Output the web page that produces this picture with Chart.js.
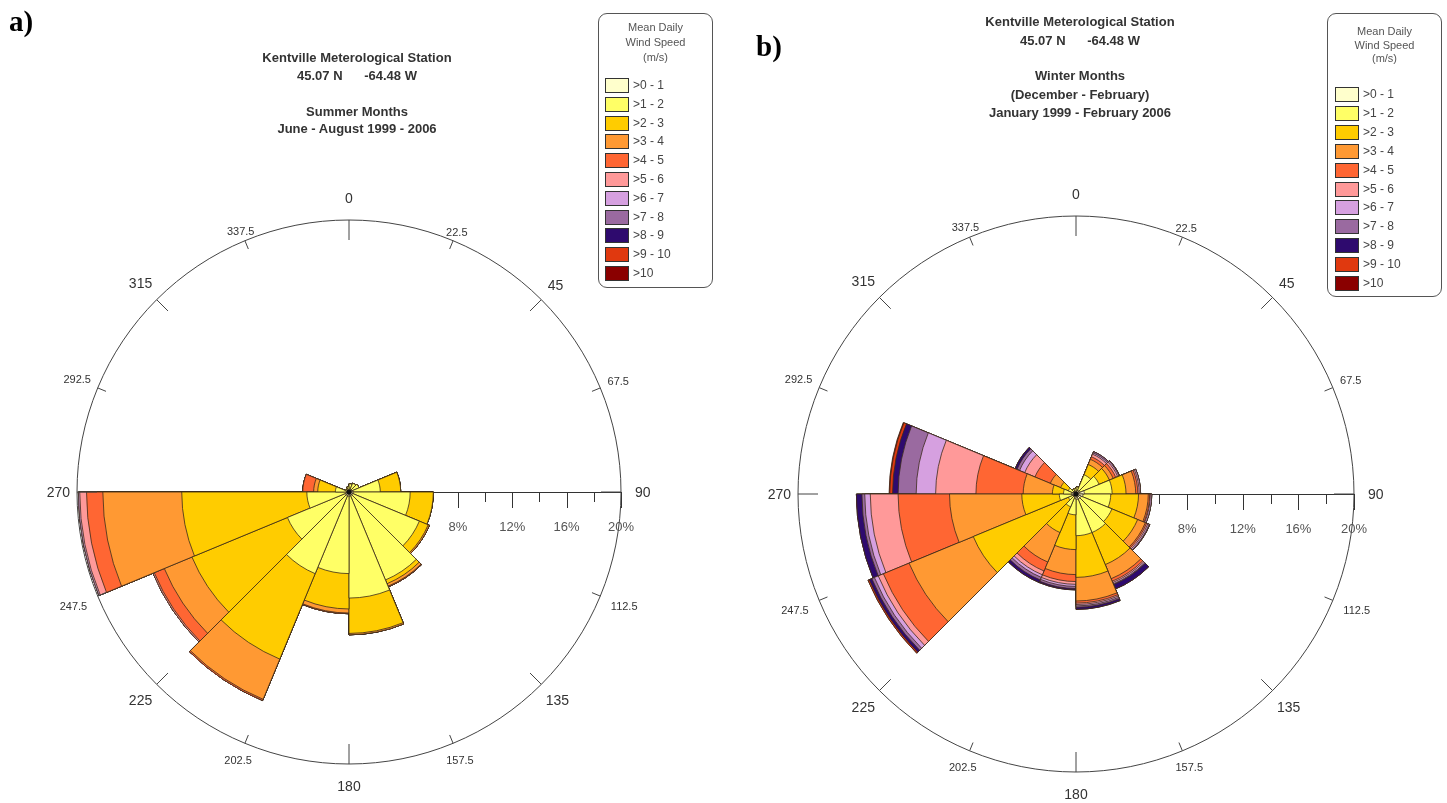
<!DOCTYPE html>
<html>
<head>
<meta charset="utf-8">
<script src="https://cdn.jsdelivr.net/npm/chart.js@4.4.0/dist/chart.umd.min.js"></script>
<style>
  body { margin: 0; background: #fff; }
  #page { position: relative; width: 1447px; height: 803px; overflow: hidden; font-family: "Liberation Sans", Arial, sans-serif; }
  canvas { position: absolute; top: 0; }
  .t { position: absolute; text-align: center; font-weight: bold; font-size: 13px; color: #333; white-space: pre; line-height: 16px; }
  .panel { position: absolute; font-family: "Liberation Serif", "Times New Roman", serif; font-weight: bold; font-size: 29px; color: #000; }
  .legend { position: absolute; border: 1px solid #555; border-radius: 9px; background: #fff; }
  .lt { position: absolute; left: 0; right: 0; text-align: center; font-size: 11px; color: #555; line-height: 14px; }
  .sw { position: absolute; width: 22px; height: 13px; border: 1px solid #333; }
  .sl { position: absolute; font-size: 12px; color: #444; line-height: 14px; white-space: pre; }
</style>
</head>
<body>
<div id="page">
  <canvas id="summer" width="720" height="803" style="left:0"></canvas>
  <canvas id="winter" width="727" height="803" style="left:720px"></canvas>

  <div class="panel" style="left:9px;top:5px">a)</div>
  <div class="panel" style="left:756px;top:30px">b)</div>

  <div class="t" style="left:207px;width:300px;top:50px">Kentville Meterological Station</div>
  <div class="t" style="left:207px;width:300px;top:68px">45.07 N      -64.48 W</div>
  <div class="t" style="left:207px;width:300px;top:104px">Summer Months</div>
  <div class="t" style="left:207px;width:300px;top:121px">June - August 1999 - 2006</div>

  <div class="t" style="left:930px;width:300px;top:14px">Kentville Meterological Station</div>
  <div class="t" style="left:930px;width:300px;top:33px">45.07 N      -64.48 W</div>
  <div class="t" style="left:930px;width:300px;top:68px">Winter Months</div>
  <div class="t" style="left:930px;width:300px;top:87px">(December - February)</div>
  <div class="t" style="left:930px;width:300px;top:105px">January 1999 - February 2006</div>

  <div class="legend" id="legA" style="left:598px;top:13px;width:113px;height:273px"></div>
  <div class="legend" id="legB" style="left:1327px;top:13px;width:113px;height:282px"></div>
</div>

<script>
const directions = ['0', '22.5', '45', '67.5', '90', '112.5', '135', '157.5',
                    '180', '202.5', '225', '247.5', '270', '292.5', '315', '337.5'];
const binLabels = ['>0 - 1', '>1 - 2', '>2 - 3', '>3 - 4', '>4 - 5', '>5 - 6',
                   '>6 - 7', '>7 - 8', '>8 - 9', '>9 - 10', '>10'];
const binColors = ['#ffffcc', '#ffff66', '#ffcc00', '#ff9933', '#ff6633', '#ff9999',
                   '#d6a0e0', '#9a6aa0', '#2e0a6e', '#e0390f', '#8a0000'];
const pctTicks = [4, 8, 12, 16, 20];
const pctMinor = [2, 6, 10, 14, 18];

// summer, % of days per speed bin, sectors 0-22.5 ... 337.5-360
const summer01 = [0.2, 0.2, 0.2, 0.3, 0.3, 0.3, 0.3, 0.3, 0.3, 0.3, 0.3, 0.2, 0.2, 0.1, 0.1, 0.1];
const summer12 = [0.4, 0.5, 0.6, 2.0, 4.2, 5.3, 6.7, 7.5, 5.7, 6.2, 4.6, 2.9, 0.8, 0.2, 0.2, 0.3];
const summer23 = [0, 0, 0, 1.5, 1.7, 0.7, 0.3, 2.6, 2.6, 6.8, 7.6, 9.2, 1.3, 0, 0, 0];
const summer34 = [0, 0, 0, 0, 0, 0.1, 0.2, 0.1, 0.3, 3.2, 2.2, 5.8, 0.3, 0, 0, 0];
const summer45 = [0, 0, 0, 0, 0, 0, 0.05, 0, 0.05, 0.1, 0.8, 1.2, 0.8, 0, 0, 0];
const summer56 = [0, 0, 0, 0, 0, 0, 0, 0, 0, 0, 0.1, 0.5, 0, 0, 0, 0];
const summer67 = [0, 0, 0, 0, 0, 0, 0, 0, 0, 0, 0, 0.1, 0, 0, 0, 0];
const summer78 = [0, 0, 0, 0, 0, 0, 0, 0, 0, 0, 0, 0, 0, 0, 0, 0];
const summer89 = [0, 0, 0, 0, 0, 0, 0, 0, 0, 0, 0, 0, 0, 0, 0, 0];
const summer910 = [0, 0, 0, 0, 0, 0, 0, 0, 0, 0, 0, 0, 0, 0, 0, 0];
const summer10 = [0, 0, 0, 0, 0, 0, 0, 0, 0, 0, 0, 0, 0, 0, 0, 0];

// winter
const winter01 = [0.2, 0.3, 0.3, 0.6, 0.5, 0.4, 0.4, 0.4, 0.3, 0.2, 0.2, 0.3, 0.3, 0.2, 0.2, 0.2];
const winter12 = [0.3, 1.2, 1.5, 2.0, 2.0, 2.4, 2.6, 2.6, 1.2, 0.8, 0.4, 0.9, 0.6, 0.4, 0.2, 0.2];
const winter23 = [0, 0.8, 0.8, 1.0, 2.0, 2.0, 2.5, 3.0, 2.5, 2.0, 7.4, 2.7, 0.8, 0.6, 0, 0];
const winter34 = [0, 0.4, 0.3, 0.7, 0.7, 0.6, 1.1, 1.7, 1.8, 2.3, 5.0, 5.2, 2.1, 0.8, 0, 0];
const winter45 = [0, 0.2, 0.2, 0.15, 0.1, 0.1, 0.2, 0.15, 0.5, 0.7, 2.0, 3.7, 3.4, 1.2, 0, 0];
const winter56 = [0, 0.2, 0.15, 0.1, 0.05, 0.1, 0.1, 0.1, 0.2, 0.3, 0.4, 2.0, 2.9, 0.8, 0, 0];
const winter67 = [0, 0.1, 0.1, 0.1, 0.1, 0.1, 0.1, 0.1, 0.15, 0.2, 0.3, 0.4, 1.4, 0.4, 0, 0];
const winter78 = [0, 0.1, 0.05, 0, 0, 0.05, 0.05, 0.1, 0.15, 0.2, 0.2, 0.2, 1.3, 0.2, 0, 0];
const winter89 = [0, 0, 0, 0, 0, 0, 0.35, 0.15, 0.1, 0.2, 0.2, 0.4, 0.4, 0.15, 0, 0];
const winter910 = [0, 0, 0, 0, 0, 0, 0, 0, 0, 0, 0.1, 0, 0.2, 0, 0, 0];
const winter10 = [0, 0, 0, 0, 0, 0, 0, 0, 0, 0, 0, 0, 0.05, 0, 0, 0];

const summerBins = [summer01, summer12, summer23, summer34, summer45, summer56,
                    summer67, summer78, summer89, summer910, summer10];
const winterBins = [winter01, winter12, winter23, winter34, winter45, winter56,
                    winter67, winter78, winter89, winter910, winter10];

// axis along 90 deg, direction ticks and labels round the rim
const roseDecor = {
  id: 'roseDecor',
  beforeDatasetsDraw(chart) {
    const s = chart.scales.r, ctx = chart.ctx;
    const o = s.getPointPositionForValue(4, 0), e = s.getPointPositionForValue(4, 20);
    ctx.save();
    ctx.strokeStyle = '#333';
    ctx.lineWidth = 1;
    ctx.beginPath();
    ctx.moveTo(o.x, o.y + 0.5);
    ctx.lineTo(e.x, e.y + 0.5);
    ctx.stroke();
    pctMinor.forEach(v => {
      const p = s.getPointPositionForValue(4, v);
      ctx.beginPath();
      ctx.moveTo(Math.round(p.x) + 0.5, p.y);
      ctx.lineTo(Math.round(p.x) + 0.5, p.y + 10);
      ctx.stroke();
    });
    ctx.font = '13px "Liberation Sans", Arial';
    ctx.fillStyle = '#555';
    ctx.textAlign = 'center';
    ctx.textBaseline = 'middle';
    pctTicks.forEach(v => {
      const p = s.getPointPositionForValue(4, v);
      ctx.beginPath();
      ctx.moveTo(Math.round(p.x) + 0.5, p.y);
      ctx.lineTo(Math.round(p.x) + 0.5, p.y + 16);
      ctx.stroke();
      ctx.fillText(v + '%', p.x, p.y + 35);
    });
    ctx.restore();
  },
  afterDatasetsDraw(chart) {
    const s = chart.scales.r, ctx = chart.ctx, R = s.drawingArea;
    ctx.save();
    ctx.strokeStyle = '#444';
    ctx.lineWidth = 1;
    ctx.textAlign = 'center';
    ctx.textBaseline = 'middle';
    ctx.fillStyle = '#333';
    directions.forEach((lab, i) => {
      const len = i % 4 === 0 ? 20 : i % 2 === 0 ? 16 : 9;
      const a = s.getPointPosition(i, R), b = s.getPointPosition(i, R - len);
      ctx.beginPath();
      ctx.moveTo(a.x, a.y);
      ctx.lineTo(b.x, b.y);
      ctx.stroke();
      const major = i % 2 === 0;
      const size = major ? 14 : 11;
      ctx.font = size + 'px "Liberation Sans", Arial';
      const w = ctx.measureText(lab).width, h = size * 0.72;
      const ang = i * Math.PI / 8;
      const sn = Math.abs(Math.sin(ang)), cs = Math.abs(Math.cos(ang));
      const down = Math.cos(ang) < 0, right = Math.sin(ang) > 0;
      let gap;
      if (major) {
        if (cs > 0.9) gap = 17;
        else if (sn > 0.9) gap = right ? 14 : 7;
        else gap = 11;
      } else {
        gap = sn > 0.5 ? (down ? 12 : 8) : (down ? 9 : 2);
      }
      const p = s.getPointPosition(i, R + gap + sn * w / 2 + cs * h / 2);
      ctx.fillText(lab, p.x, p.y + 1);
    });
    ctx.fillStyle = '#111';
    ctx.beginPath();
    ctx.arc(s.xCenter, s.yCenter, 2.5, 0, Math.PI * 2);
    ctx.fill();
    ctx.restore();
  }
};

function makeRose(id, bins, pad) {
  const datasets = [];
  let cum = directions.map(() => 0);
  bins.forEach((b, k) => {
    cum = cum.map((v, i) => v + b[i]);
    datasets.push({
      label: binLabels[k],
      data: cum.slice(),
      backgroundColor: binColors[k],
      borderColor: '#3b2b1b',
      borderWidth: 0.8
    });
  });
  new Chart(document.getElementById(id), {
    type: 'polarArea',
    data: { labels: directions, datasets: datasets },
    options: {
      responsive: false,
      animation: false,
      devicePixelRatio: 1,
      layout: { padding: pad },
      plugins: { legend: { display: false }, tooltip: { enabled: false } },
      scales: {
        r: {
          min: 0,
          max: 20,
          startAngle: 0,
          ticks: { display: false, stepSize: 20 },
          grid: { circular: true, color: '#444', lineWidth: 1 },
          angleLines: { display: false },
          pointLabels: { display: false }
        }
      }
    },
    plugins: [roseDecor]
  });
}

function makeLegend(id, titleTops, swLeft, firstTop, step) {
  const box = document.getElementById(id);
  ['Mean Daily', 'Wind Speed', '(m/s)'].forEach((txt, i) => {
    const d = document.createElement('div');
    d.className = 'lt';
    d.style.top = (titleTops[i] - 7) + 'px';
    d.textContent = txt;
    box.appendChild(d);
  });
  binLabels.forEach((lab, k) => {
    const top = firstTop + k * step;
    const sw = document.createElement('div');
    sw.className = 'sw';
    sw.style.left = swLeft + 'px';
    sw.style.top = top + 'px';
    sw.style.background = binColors[k];
    box.appendChild(sw);
    const t = document.createElement('div');
    t.className = 'sl';
    t.style.left = (swLeft + 28) + 'px';
    t.style.top = top + 'px';
    t.textContent = lab;
    box.appendChild(t);
  });
}

makeRose('summer', summerBins, { left: 77, right: 99, top: 220, bottom: 39 });
makeRose('winter', winterBins, { left: 78, right: 93, top: 216, bottom: 31 });
makeLegend('legA', [13, 28, 43], 6, 64, 18.8);
makeLegend('legB', [17, 31, 44], 7, 73, 18.9);
</script>
</body>
</html>
